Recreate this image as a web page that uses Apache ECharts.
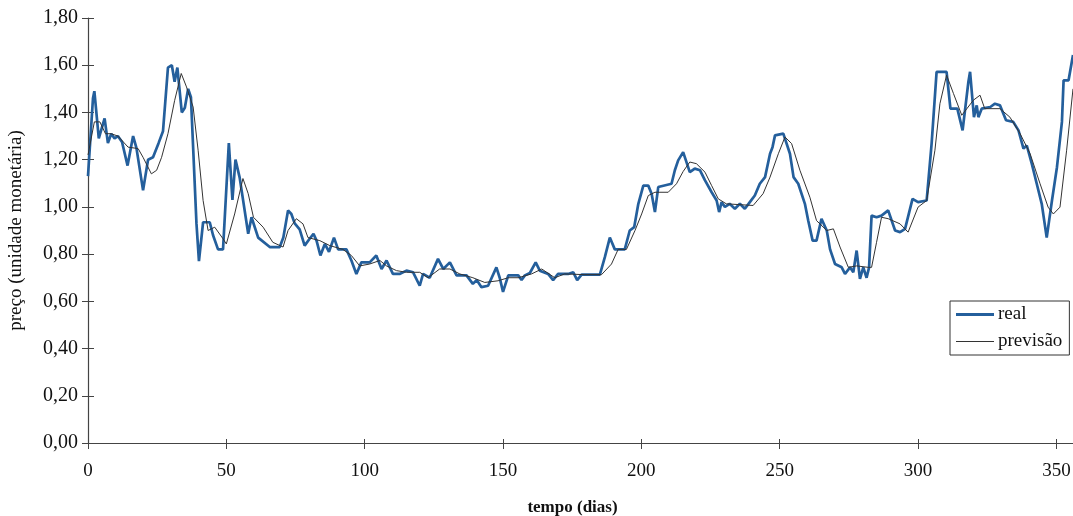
<!DOCTYPE html>
<html><head><meta charset="utf-8">
<script src="https://cdn.jsdelivr.net/npm/echarts@6/dist/echarts.min.js"></script>
<style>html,body{margin:0;padding:0;background:#fff}#c{width:1073px;height:516px}</style>
</head><body><div id="c"></div>
<script>
const seriesNames = ['real', 'previsão'];
const realDays = [0,1.8,2.3,3.9,6.0,7.2,8.4,9.6,10.8,12.3,14.3,16.3,17.5,19.9,21.7,23.5,25.5,27.1,28.9,30.3,31.3,32.3,33.9,35.0,36.2,37.2,39.2,40.1,41.6,44.0,45.2,47.0,48.8,50.9,52.2,53.3,54.8,57.9,59.1,61.5,65.7,69.3,70.6,72.3,73.5,74.7,76.5,78.3,80.1,81.5,82.6,84.0,85.6,87.1,88.9,90.4,93.4,95.2,97.0,98.8,101.8,104.2,106.1,107.9,110.2,112.6,115.1,117.5,119.9,121.1,123.5,126.5,128.4,130.8,133.2,136.8,139.1,140.5,142.2,144.6,147.6,148.8,150.0,151.9,155.5,156.7,157.9,159.7,161.8,163.3,166.3,168.1,169.9,173.5,175.4,176.8,178.4,185.0,186.8,188.6,190.4,194.0,195.8,197.4,198.9,200.7,202.5,203.7,204.9,206.1,210.9,212.1,213.3,215.1,217.5,219.3,221.2,223.0,225.4,227.2,228.1,229.0,230.2,231.9,233.8,235.6,237.4,239.2,241.0,242.8,244.7,246.5,247.4,248.3,251.3,253.7,255.0,256.7,259.1,260.3,261.9,263.3,265.1,267.0,268.2,270.0,272.4,273.6,275.4,276.6,277.8,279.0,280.2,281.4,282.3,283.2,285.0,286.8,289.2,291.7,293.5,295.3,298.0,300.0,303.1,304.9,306.7,310.3,311.7,314.2,316.1,318.2,318.8,320.2,321.2,321.8,323.0,326.1,327.8,329.6,331.8,334.4,336.3,338.1,339.3,341.1,342.9,344.7,346.5,348.4,350.2,352.0,352.6,354.4,356.0];
const realValues = [1.13,1.46,1.49,1.29,1.375,1.27,1.31,1.29,1.30,1.275,1.175,1.30,1.25,1.07,1.20,1.21,1.27,1.32,1.59,1.60,1.53,1.59,1.40,1.42,1.50,1.465,0.93,0.77,0.935,0.935,0.88,0.82,0.82,1.27,1.03,1.20,1.125,0.886,0.956,0.87,0.83,0.83,0.87,0.985,0.97,0.93,0.905,0.836,0.865,0.886,0.857,0.794,0.843,0.81,0.87,0.82,0.82,0.773,0.716,0.765,0.765,0.794,0.737,0.773,0.716,0.716,0.73,0.723,0.666,0.716,0.70,0.78,0.737,0.765,0.71,0.71,0.674,0.69,0.66,0.666,0.744,0.70,0.64,0.71,0.71,0.69,0.71,0.72,0.765,0.73,0.716,0.69,0.716,0.716,0.723,0.69,0.713,0.713,0.787,0.87,0.82,0.82,0.90,0.914,1.013,1.09,1.09,1.056,0.978,1.084,1.098,1.155,1.197,1.232,1.147,1.162,1.155,1.112,1.062,1.027,0.978,1.02,1.0,1.013,0.992,1.013,0.992,1.02,1.048,1.098,1.126,1.225,1.253,1.303,1.31,1.225,1.126,1.098,1.013,0.942,0.857,0.857,0.95,0.90,0.82,0.758,0.744,0.716,0.744,0.723,0.815,0.695,0.744,0.70,0.744,0.963,0.956,0.963,0.985,0.90,0.893,0.907,1.034,1.02,1.027,1.268,1.572,1.572,1.416,1.416,1.324,1.53,1.572,1.38,1.43,1.38,1.416,1.423,1.437,1.43,1.367,1.36,1.324,1.247,1.26,1.183,1.098,1.013,0.87,1.027,1.168,1.36,1.536,1.536,1.643];
const predDays = [0,2.3,4.3,6.3,8.3,10.8,14.5,18.1,19.9,22.9,24.8,26.6,28.9,31.3,33.7,35.6,38.0,39.8,41.6,43.4,45.8,48.8,50.0,53.0,56.0,57.9,59.8,63.3,66.8,70.5,72.3,75.3,77.7,79.5,83.8,87.4,92.1,95.2,98.2,101.8,105.5,107.9,111.5,115.1,119.9,122.9,127.1,130.8,134.4,139.1,143.4,148.2,151.9,155.5,160.3,164.0,168.7,172.3,179.6,185.6,189.2,191.6,194.6,197.7,200.1,202.5,204.9,209.7,212.7,215.1,217.5,219.9,223.0,225.4,227.8,230.7,240.4,244.0,246.5,249.5,251.9,254.3,257.3,260.9,263.3,267.0,269.4,271.8,274.8,277.8,282.0,283.2,285.0,286.8,289.2,293.5,296.4,300.0,303.1,306.1,307.9,310.3,312.8,315.8,320.0,322.4,324.1,329.6,333.2,336.9,340.5,344.1,347.0,348.9,351.3,353.7,356.0];
const predValues = [1.22,1.36,1.36,1.31,1.31,1.30,1.253,1.247,1.21,1.14,1.155,1.21,1.31,1.45,1.565,1.508,1.423,1.24,1.027,0.90,0.914,0.865,0.843,0.97,1.12,1.056,0.956,0.914,0.85,0.83,0.90,0.95,0.928,0.87,0.857,0.836,0.82,0.794,0.75,0.758,0.773,0.75,0.73,0.723,0.723,0.70,0.737,0.737,0.716,0.70,0.68,0.687,0.70,0.70,0.716,0.737,0.70,0.716,0.713,0.713,0.758,0.82,0.82,0.90,0.97,1.048,1.062,1.062,1.098,1.15,1.19,1.183,1.147,1.09,1.034,1.013,1.006,1.056,1.126,1.225,1.296,1.268,1.155,1.041,0.942,0.90,0.907,0.83,0.744,0.75,0.744,0.744,0.85,0.956,0.95,0.928,0.893,0.999,1.027,1.24,1.437,1.558,1.48,1.388,1.452,1.473,1.416,1.416,1.38,1.31,1.225,1.098,0.999,0.97,0.999,1.24,1.50];
const xTickStep = 50;
const yTickStep = 0.2;
const xAxisTitle = 'tempo (dias)';
const yAxisTitle = 'preço (unidade monetária)';

const FONT = 'Liberation Serif';
const REAL_COLOR = '#245f9c';
const PRED_COLOR = '#333';
const gridBox = {left: 88, right: 0, top: 18, bottom: 73, outerBoundsMode: 'none', containLabel: false};
const xMax = 356, yMax = 1.8;
const chart = echarts.init(document.getElementById('c'), null, {renderer: 'canvas'});
chart.setOption({
  animation: false,
  backgroundColor: '#fff',
  grid: [Object.assign({}, gridBox), Object.assign({}, gridBox)],
  legend: {
    left: 950, top: 301, orient: 'vertical',
    padding: [4, 7, 4, 6], itemGap: 8, itemWidth: 38, itemHeight: 20,
    borderColor: '#333', borderWidth: 1, borderRadius: 0,
    textStyle: {fontFamily: FONT, fontSize: 19, color: '#111', padding: [0,0,0,-1]},
    data: [
      {name: seriesNames[0], icon: 'path://M0,0H38V3H0Z', itemStyle: {color: REAL_COLOR}},
      {name: seriesNames[1], icon: 'path://M0,0H38V1H0Z', itemStyle: {color: PRED_COLOR}}
    ]
  },
  xAxis: [{
    type: 'value', gridIndex: 0, min: 0, max: xMax, interval: xTickStep,
    splitLine: {show: false},
    axisLine: {lineStyle: {color: '#444', width: 1.2}},
    axisTick: {length: 6, lineStyle: {color: '#444'}},
    axisLabel: {fontFamily: FONT, fontSize: 19, color: '#111', margin: 19, showMaxLabel: false,
      formatter: v => (Math.abs(v % xTickStep) < 1e-9 ? String(v) : '')},
    name: xAxisTitle, nameLocation: 'middle', nameGap: 56,
    nameTextStyle: {fontFamily: FONT, fontSize: 17, fontWeight: 'bold', color: '#111', padding: [0, 16, 0, 0]}
  }, {
    type: 'value', gridIndex: 1, min: 0, max: xMax, interval: xTickStep,
    splitLine: {show: false}, axisLine: {show: false}, axisLabel: {show: false},
    axisTick: {inside: true, length: 4, lineStyle: {color: '#444'}}
  }],
  yAxis: [{
    type: 'value', gridIndex: 0, min: 0, max: yMax, interval: yTickStep,
    splitLine: {show: false},
    axisLine: {show: true, lineStyle: {color: '#444', width: 1.2}},
    axisTick: {show: true, length: 6, lineStyle: {color: '#444'}},
    axisLabel: {fontFamily: FONT, fontSize: 20, color: '#111', margin: 10,
      formatter: v => v.toFixed(2).replace('.', ',')},
    name: yAxisTitle, nameLocation: 'middle', nameGap: 62,
    nameTextStyle: {fontFamily: FONT, fontSize: 19, color: '#111'}
  }, {
    type: 'value', gridIndex: 1, min: 0, max: yMax, interval: yTickStep,
    splitLine: {show: false}, axisLine: {show: false}, axisLabel: {show: false},
    axisTick: {show: true, inside: true, length: 6, lineStyle: {color: '#444'}}
  }],
  series: [{
    name: seriesNames[0], type: 'line', xAxisIndex: 0, yAxisIndex: 0,
    symbol: 'none', showSymbol: false, clip: true,
    lineStyle: {color: REAL_COLOR, width: 2.7}, itemStyle: {color: REAL_COLOR},
    data: realDays.map((d, i) => [d, realValues[i]])
  }, {
    name: seriesNames[1], type: 'line', xAxisIndex: 0, yAxisIndex: 0,
    symbol: 'none', showSymbol: false, clip: true,
    lineStyle: {color: PRED_COLOR, width: 1}, itemStyle: {color: PRED_COLOR},
    data: predDays.map((d, i) => [d, predValues[i]])
  }]
});
</script></body></html>
